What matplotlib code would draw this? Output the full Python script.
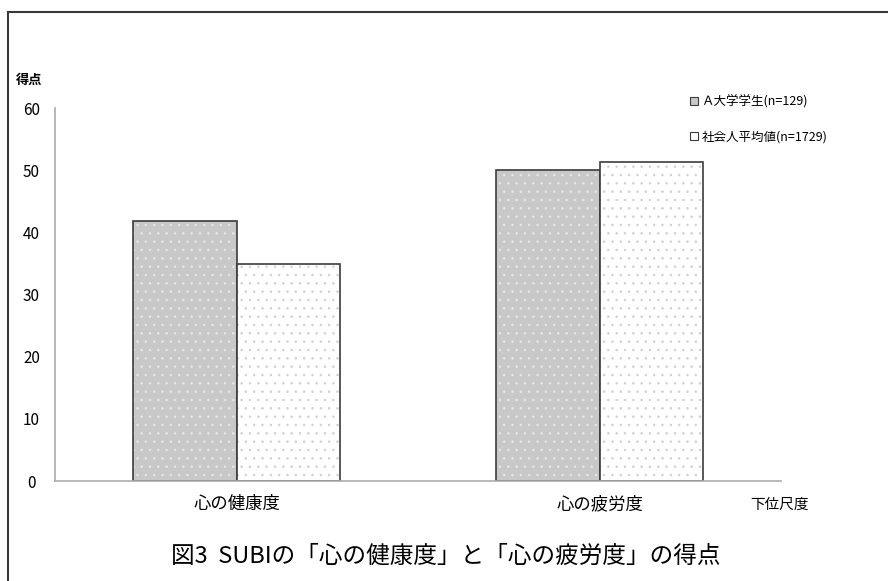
import matplotlib
matplotlib.use("Agg")
import matplotlib.pyplot as plt
from matplotlib.patches import Patch
from matplotlib.lines import Line2D
import numpy as np

plt.rcParams['font.family'] = ['Noto Sans CJK JP', 'DejaVu Sans']
plt.rcParams['hatch.linewidth'] = 0.6

categories = ['心の健康度', '心の疲労度']
students = [41.8, 50.0]
adults = [34.9, 51.4]
series_names = ['Ａ大学学生(n=129)', '社会人平均値(n=1729)']
yticks = [0, 10, 20, 30, 40, 50, 60]

fig = plt.figure(figsize=(8.88, 5.81), dpi=100)
ax = fig.add_axes([0.062, 0.172, 0.818, 0.642])

x = np.arange(len(categories))
w = 0.285
gray = '#c8c8c8'
edge = '#3c3c3c'

# dotted fills: hatch drawn with edgecolor, then a plain outline on top
ax.bar(x - w / 2, students, w, color=gray, edgecolor='#e6e6e6', hatch='..', linewidth=0)
ax.bar(x - w / 2, students, w, fill=False, edgecolor=edge, linewidth=1.2)
ax.bar(x + w / 2, adults, w, color='white', edgecolor='#d2d2d2', hatch='..', linewidth=0)
ax.bar(x + w / 2, adults, w, fill=False, edgecolor=edge, linewidth=1.2)

ax.set_xlim(-0.5, 1.5)
ax.set_ylim(0, 60)
ax.set_yticks(yticks)
ax.set_xticks(x)
ax.set_xticklabels(categories, fontsize=12.5)
for lab in ax.get_yticklabels():
    lab.set_horizontalalignment('center')
ax.tick_params(axis='y', length=0, pad=17, labelsize=11)
ax.tick_params(axis='x', length=0, pad=10)

for s in ['top', 'right']:
    ax.spines[s].set_visible(False)
for s in ['left', 'bottom']:
    ax.spines[s].set_color('#ababab')
    ax.spines[s].set_linewidth(1.2)

fig.text(0.018, 0.862, '得点', fontsize=9.5, fontweight='bold', va='center', ha='left')
fig.text(0.845, 0.131, '下位尺度', fontsize=10.5, va='center', ha='left')

handles = [Patch(facecolor=gray, edgecolor=edge, linewidth=0.8),
           Patch(facecolor='white', edgecolor=edge, linewidth=0.8)]
fig.legend(handles, series_names, loc='upper left', bbox_to_anchor=(0.771, 0.845),
           frameon=False, fontsize=9, handlelength=0.65, handleheight=0.65,
           handletextpad=0.3, labelspacing=1.75, borderaxespad=0)

fig.text(0.502, 0.043, '図3  SUBIの「心の健康度」と「心の疲労度」の得点',
         fontsize=17, ha='center', va='center')

# outer frame (top and left edges)
fig.add_artist(Line2D([0.009, 1.0], [0.979, 0.979], color='#3a3a3a', linewidth=1.5))
fig.add_artist(Line2D([0.009, 0.009], [0.0, 0.979], color='#3a3a3a', linewidth=1.5))

fig.savefig('out.png', dpi=100)
